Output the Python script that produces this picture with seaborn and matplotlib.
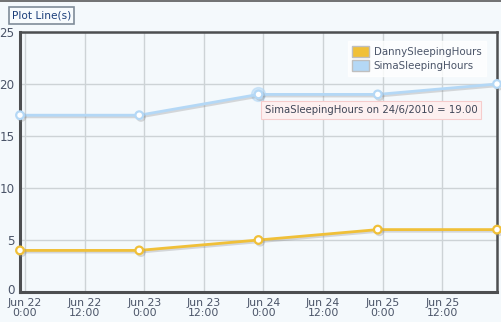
import matplotlib
matplotlib.use("Agg")
import matplotlib.pyplot as plt
import matplotlib.transforms as mtransforms
import seaborn as sns
import pandas as pd
from matplotlib.patches import Patch
import matplotlib.patheffects as pe

# Data
hours = [-1, 23, 47, 71, 95]  # hours relative to Jun 22 0:00 (data dates 22/6 .. 26/6, local offset)
danny = [4, 4, 5, 6, 6]
sima = [17, 17, 19, 19, 20]
tick_hours = [0, 12, 24, 36, 48, 60, 72, 84]
tick_labels = ["Jun 22\n0:00", "Jun 22\n12:00", "Jun 23\n0:00", "Jun 23\n12:00",
               "Jun 24\n0:00", "Jun 24\n12:00", "Jun 25\n0:00", "Jun 25\n12:00"]
y_ticks = [0, 5, 10, 15, 20, 25]
series_names = ["DannySleepingHours", "SimaSleepingHours"]

df = pd.DataFrame({
    "hour": hours * 2,
    "value": danny + sima,
    "series": [series_names[0]] * 5 + [series_names[1]] * 5,
})

sns.set_theme(style="white")
plt.rcParams["font.family"] = ["DejaVu Sans"]

gold = "#f0c038"
blue = "#b4d8f6"
bg = "#f4f9fc"
txt = "#4a5468"

fig = plt.figure(figsize=(5.02, 3.22), dpi=100, facecolor=bg)
ax = fig.add_axes([20 / 502, 30 / 322, (497 - 20) / 502, (292 - 32) / 322])
ax.set_facecolor(bg)

shadow = [pe.SimpleLineShadow(offset=(1.2, -1.2), shadow_color="#888888", alpha=0.3), pe.Normal()]
sns.lineplot(data=df, x="hour", y="value", hue="series",
             palette={series_names[0]: gold, series_names[1]: blue},
             linewidth=2.0, marker="o", markersize=5.5, markerfacecolor="white",
             markeredgewidth=1.6, legend=False, ax=ax, zorder=3)
for line, c in zip(ax.lines, [gold, blue]):
    line.set_markeredgecolor(c)
    line.set_path_effects(shadow)
    line.set_clip_on(False)

# highlighted point halo
ax.plot([hours[2]], [sima[2]], "o", ms=10, color=blue, alpha=0.55, zorder=2)

ax.set_xlim(-1, 95)
ax.set_ylim(0, 25)
ax.set_xticks(tick_hours)
ax.set_xticklabels(tick_labels, linespacing=1.0)
ax.set_yticks(y_ticks)
ax.set_xlabel("")
ax.set_ylabel("")
ax.grid(True, color="#cdd3d6", linewidth=1.0)
ax.set_axisbelow(True)
for s in ax.spines.values():
    s.set_color("#4d4f51")
    s.set_linewidth(2.2)
ax.spines["top"].set_linewidth(1.8)
ax.spines["right"].set_linewidth(1.8)
ax.tick_params(axis="x", length=0, labelsize=7.8, labelcolor=txt, pad=4.5)
ax.tick_params(axis="y", length=0, pad=4, labelsize=8.6, labelcolor=txt)

# lift the "0" label slightly so it does not touch the first x label
lbl0 = ax.get_yticklabels()[0]
lbl0.set_transform(lbl0.get_transform() + mtransforms.ScaledTranslation(0, 2.5 / 72, fig.dpi_scale_trans))

# legend
handles = [Patch(facecolor=gold, edgecolor="#bfbfbf", label=series_names[0]),
           Patch(facecolor=blue, edgecolor="#bfbfbf", label=series_names[1])]
leg = ax.legend(handles=handles, loc="upper right", bbox_to_anchor=(0.988, 0.985),
                frameon=True, fontsize=7.4, handlelength=1.6, handleheight=1.3,
                borderpad=0.45, labelspacing=0.3, handletextpad=0.5, fancybox=False)
leg.get_frame().set_facecolor("white")
leg.get_frame().set_edgecolor("white")
for t in leg.get_texts():
    t.set_color(txt)

# tooltip
fig.text(265 / 502, 1 - 110 / 322, "SimaSleepingHours on 24/6/2010 = 19.00",
         fontsize=7.3, color="#3f4657", va="center", ha="left",
         bbox=dict(boxstyle="square,pad=0.35", facecolor="#fdf0f0", edgecolor="#f6cccc", linewidth=0.8))

# top thin line
fig.add_artist(plt.Line2D([0, 1], [1 - 0.5 / 322, 1 - 0.5 / 322], color="#5a5a5a", linewidth=1.2))

# Plot Line(s) button
fig.text(12 / 502, 1 - 15.5 / 322, "Plot Line(s)", fontsize=7.6, color="#1a3e7a",
         va="center", ha="left",
         bbox=dict(boxstyle="square,pad=0.3", facecolor="#f7fbfd", edgecolor="#7f8c99", linewidth=1.2))

fig.savefig("out.png", dpi=100, facecolor=bg)
